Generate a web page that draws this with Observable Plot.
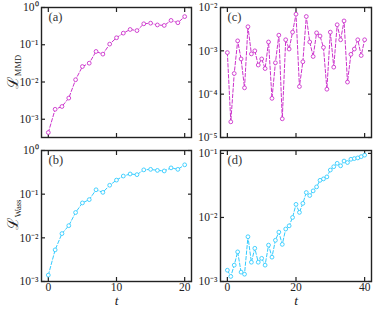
<!DOCTYPE html>
<html><head><meta charset="utf-8">
<script src="https://cdn.jsdelivr.net/npm/d3@7"></script>
<script src="https://cdn.jsdelivr.net/npm/@observablehq/plot@0.6"></script>
<style>
body{margin:0;background:#fff;}
#chart{position:relative;width:374px;height:311px;overflow:hidden;background:#fff;}
.panel{position:absolute;}
.panel svg{overflow:visible;}
.ylab{position:absolute;font-family:"DejaVu Serif","Liberation Serif",serif;color:#222;transform:translate(-50%,-50%) rotate(-90deg);white-space:nowrap;line-height:1;}
.ylab sub{font-family:"Liberation Serif",serif;font-size:8.5px;vertical-align:-3px;}
</style></head><body><div id="chart"></div>
<script>
// time steps
const tShort = [0,1,2,3,4,5,6,7,8,9,10,11,12,13,14,15,16,17,18,19,20];
const tLong = [0,1,2,3,4,5,6,7,8,9,10,11,12,13,14,15,16,17,18,19,20,21,22,23,24,25,26,27,28,29,30,31,32,33,34,35,36,37,38,39,40];

// (a) MMD loss, short run
const mmdA = [4.4e-4,1.85e-3,2.2e-3,3.7e-3,0.0115,0.026,0.032,0.066,0.056,0.104,0.154,0.205,0.257,0.24,0.365,0.38,0.34,0.33,0.45,0.39,0.57];
// (b) Wasserstein loss, short run
const wassB = [1.4e-3,5.3e-3,0.0125,0.019,0.038,0.063,0.075,0.126,0.11,0.16,0.21,0.26,0.29,0.28,0.36,0.37,0.35,0.34,0.40,0.37,0.47];
// (c) MMD loss, long run
const mmdC = [9.1e-4,2.3e-5,3.0e-4,1.7e-3,6.5e-4,1.4e-4,3.6e-3,8.5e-4,1.0e-3,4.7e-4,6.5e-4,3.9e-4,1.6e-3,8.0e-5,5.3e-4,2.3e-3,2.7e-5,1.8e-3,1.1e-3,2.7e-3,7.0e-3,1.5e-4,5.6e-4,6.2e-3,1.6e-3,7.4e-4,2.6e-3,2.2e-3,1.2e-3,1.3e-4,2.7e-3,4.2e-4,4.0e-3,1.8e-3,4.9e-3,1.9e-4,8.3e-4,1.1e-3,1.8e-3,7.8e-4,1.8e-3];
// (d) Wasserstein loss, long run
const wassD = [1.5e-3,1.2e-3,1.8e-3,2.9e-3,1.4e-3,1.3e-3,5.0e-3,2.0e-3,3.3e-3,2.0e-3,2.3e-3,1.8e-3,3.7e-3,2.4e-3,4.4e-3,5.9e-3,3.8e-3,6.6e-3,7.4e-3,0.010,0.016,0.012,0.0166,0.0245,0.022,0.026,0.030,0.038,0.040,0.043,0.055,0.062,0.070,0.064,0.076,0.072,0.081,0.083,0.085,0.089,0.094];

// tick values
const xTicksShort = [0,10,20];
const xTicksLong = [0,20,40];
const yTicksA = [1,0.1,0.01,0.001];
const yTicksB = [1,0.1,0.01,0.001];
const yTicksC = [0.01,0.001,0.0001,0.00001];
const yTicksD = [0.1,0.01,0.001];

const MAGENTA = "#cc33cc";
const CYAN = "#33ccff";

const SUP = {"-":"\u207B","0":"\u2070","1":"\u00B9","2":"\u00B2","3":"\u00B3","4":"\u2074","5":"\u2075","6":"\u2076","7":"\u2077","8":"\u2078","9":"\u2079"};
const sup = n => String(n).split("").map(c => SUP[c]).join("");
const fmtLog = d => "10" + sup(Math.round(Math.log10(d)));
const blank = () => "";

function panel(o) {
  const data = o.t.map((x, i) => ({t: x, v: o.v[i]}));
  const chart = Plot.plot({
    width: o.width, height: o.height,
    marginTop: o.mt, marginBottom: o.mb, marginLeft: o.ml, marginRight: o.mr,
    style: {fontFamily: "'Liberation Serif', serif", fontSize: "11.5px", color: "#222", background: "transparent", overflow: "visible"},
    x: {domain: o.xDomain},
    y: {type: "log", domain: o.yDomain},
    marks: [
      Plot.axisY({ticks: o.yTicks, tickSize: -4, tickPadding: 7, tickFormat: fmtLog, label: null, strokeWidth: 1.2}),
      Plot.axisY({anchor: "right", ticks: o.yTicks, tickSize: -4, tickFormat: blank, label: null, strokeWidth: 1.2}),
      Plot.axisX({ticks: o.xTicks, tickSize: -4, tickPadding: 5, tickFormat: o.showX ? (d => String(d)) : blank, label: null, strokeWidth: 1.2}),
      Plot.axisX({anchor: "top", ticks: o.xTicks, tickSize: -4, tickFormat: blank, label: null, strokeWidth: 1.2}),
      Plot.line(data, {x: "t", y: "v", stroke: o.color, strokeWidth: 1, strokeDasharray: "3.5,2"}),
      Plot.dot(data, {x: "t", y: "v", r: 1.9, stroke: o.color, strokeWidth: 0.9, fill: "white"}),
      Plot.frame({stroke: "#222", strokeWidth: 1.4}),
      Plot.text([o.tag], {frameAnchor: "top-left", dx: 7, dy: 5, lineAnchor: "top", textAnchor: "start", fontSize: 12.5, fill: "#333"}),
      o.showX ? Plot.text(["t"], {frameAnchor: "bottom", dy: 23, fontStyle: "italic", fontSize: 13.5, fill: "#222"}) : null
    ]
  });
  const wrap = document.createElement("div");
  wrap.className = "panel";
  wrap.style.left = o.left + "px";
  wrap.style.top = o.top + "px";
  wrap.appendChild(chart);
  document.getElementById("chart").appendChild(wrap);
}

panel({t: tShort, v: mmdA, color: MAGENTA, xDomain: [-1, 21], yDomain: [Math.pow(10, -3.49), 1], xTicks: xTicksShort, yTicks: yTicksA, showX: false, tag: "(a)",
  left: 0, top: 0, width: 195, height: 140, mt: 7, mb: 3, ml: 41, mr: 4});
panel({t: tShort, v: wassB, color: CYAN, xDomain: [-1, 21], yDomain: [1e-3, 1], xTicks: xTicksShort, yTicks: yTicksB, showX: true, tag: "(b)",
  left: 0, top: 143, width: 195, height: 168, mt: 7, mb: 30, ml: 41, mr: 4});
panel({t: tLong, v: mmdC, color: MAGENTA, xDomain: [-2, 42], yDomain: [1e-5, 1e-2], xTicks: xTicksLong, yTicks: yTicksC, showX: false, tag: "(c)",
  left: 180, top: 0, width: 194, height: 140, mt: 7, mb: 3, ml: 40, mr: 3});
panel({t: tLong, v: wassD, color: CYAN, xDomain: [-2, 42], yDomain: [1e-3, 0.111], xTicks: xTicksLong, yTicks: yTicksD, showX: true, tag: "(d)",
  left: 180, top: 143, width: 194, height: 168, mt: 7, mb: 30, ml: 40, mr: 3});

// y-axis titles
const labels = [
  {name: "MMD", x: 14, y: 72},
  {name: "Wass", x: 14, y: 215}
];
for (const l of labels) {
  const d = document.createElement("div");
  d.className = "ylab";
  d.style.left = l.x + "px";
  d.style.top = l.y + "px";
  d.style.fontSize = "15px";
  d.innerHTML = "\u2112<sub>" + l.name + "</sub>";
  document.getElementById("chart").appendChild(d);
}
</script></body></html>
